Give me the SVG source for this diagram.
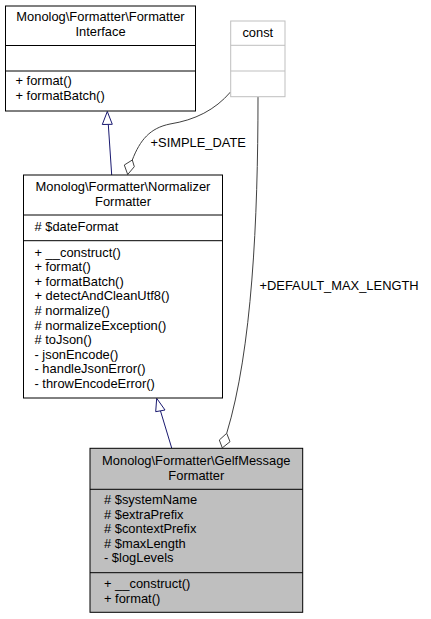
<svg xmlns="http://www.w3.org/2000/svg" width="431" height="619" viewBox="0 0 431 619">
<style>
text{font-family:"Liberation Sans",Arial,sans-serif;font-size:12.9px;fill:#000}
.c{text-anchor:middle}
.box{fill:#fff;stroke:#000;stroke-width:1}
.sel{fill:#bfbfbf;stroke:#000;stroke-width:1}
.cst{fill:#fff;stroke:#bfbfbf;stroke-width:1}
.sep{stroke:#000;stroke-width:1}
.sepg{stroke:#bfbfbf;stroke-width:1}
.inh{fill:none;stroke:#191970;stroke-width:1}
.inhh{fill:#fff;stroke:#191970;stroke-width:1}
.agg{fill:none;stroke:#404040;stroke-width:1}
.aggh{fill:#fff;stroke:#404040;stroke-width:1}
</style>
<rect width="431" height="619" fill="#fff"/>
<g id="edges">
<path class="inh" d="M111.7,175 L108.3,124.5"/>
<polygon class="inhh" points="107.3,111.5 102.3,124.5 112.3,124.3"/>
<path class="inh" d="M171.7,448 L160.5,411"/>
<polygon class="inhh" points="156.7,398.3 155.7,411.7 165,410"/>
<path class="agg" d="M230.5,92 C215,110 195,120 170,124 C150,128 140,140 132.3,160"/>
<polygon class="aggh" points="132.3,160 134.3,166.7 127.7,174.5 124.3,165"/>
<text x="150.5" y="146.5">+SIMPLE_DATE</text>
<path class="agg" d="M258,97 C258,220 252,350 226.7,433.3"/>
<polygon class="aggh" points="226.7,433.3 230,441.7 222.3,447.9 219.3,440"/>
<text x="259.5" y="289.5">+DEFAULT_MAX_LENGTH</text>
</g>
<g id="FormatterInterface">
<rect class="box" x="5.5" y="6" width="190" height="105"/>
<line class="sep" x1="5.5" y1="45.5" x2="195.5" y2="45.5"/>
<line class="sep" x1="5.5" y1="71" x2="195.5" y2="71"/>
<text class="c" x="100.5" y="21">Monolog\Formatter\Formatter</text>
<text class="c" x="100.5" y="36">Interface</text>
<text x="15.5" y="85">+ format()</text>
<text x="15.5" y="100">+ formatBatch()</text>
</g>
<g id="const">
<rect class="cst" x="230.7" y="21" width="54.3" height="75.7"/>
<line class="sepg" x1="230.7" y1="45.3" x2="285" y2="45.3"/>
<line class="sepg" x1="230.7" y1="71" x2="285" y2="71"/>
<text class="c" x="257.8" y="36.7">const</text>
</g>
<g id="NormalizerFormatter">
<rect class="box" x="23.5" y="175" width="199" height="223"/>
<line class="sep" x1="23.5" y1="215" x2="222.5" y2="215"/>
<line class="sep" x1="23.5" y1="240.7" x2="222.5" y2="240.7"/>
<text class="c" x="123" y="190.5">Monolog\Formatter\Normalizer</text>
<text class="c" x="123" y="205.5">Formatter</text>
<text x="34.5" y="231">#&#160;$dateFormat</text>
<text x="34.5" y="256.5">+ __construct()</text>
<text x="34.5" y="271.1">+ format()</text>
<text x="34.5" y="285.7">+ formatBatch()</text>
<text x="34.5" y="300.3">+ detectAndCleanUtf8()</text>
<text x="34.5" y="314.9"># normalize()</text>
<text x="34.5" y="329.5"># normalizeException()</text>
<text x="34.5" y="344.1"># toJson()</text>
<text x="34.5" y="358.7">- jsonEncode()</text>
<text x="34.5" y="373.3">- handleJsonError()</text>
<text x="34.5" y="387.9">- throwEncodeError()</text>
</g>
<g id="GelfMessageFormatter">
<rect class="sel" x="90" y="448.3" width="212.7" height="164"/>
<line class="sep" x1="90" y1="489.3" x2="302.7" y2="489.3"/>
<line class="sep" x1="90" y1="572.7" x2="302.7" y2="572.7"/>
<text class="c" x="196.3" y="465">Monolog\Formatter\GelfMessage</text>
<text class="c" x="196.3" y="479.5">Formatter</text>
<text x="104" y="504"># $systemName</text>
<text x="104" y="518.6"># $extraPrefix</text>
<text x="104" y="533.2"># $contextPrefix</text>
<text x="104" y="547.8"># $maxLength</text>
<text x="104" y="562.4">- $logLevels</text>
<text x="104" y="588">+ __construct()</text>
<text x="104" y="602.5">+ format()</text>
</g>
</svg>
